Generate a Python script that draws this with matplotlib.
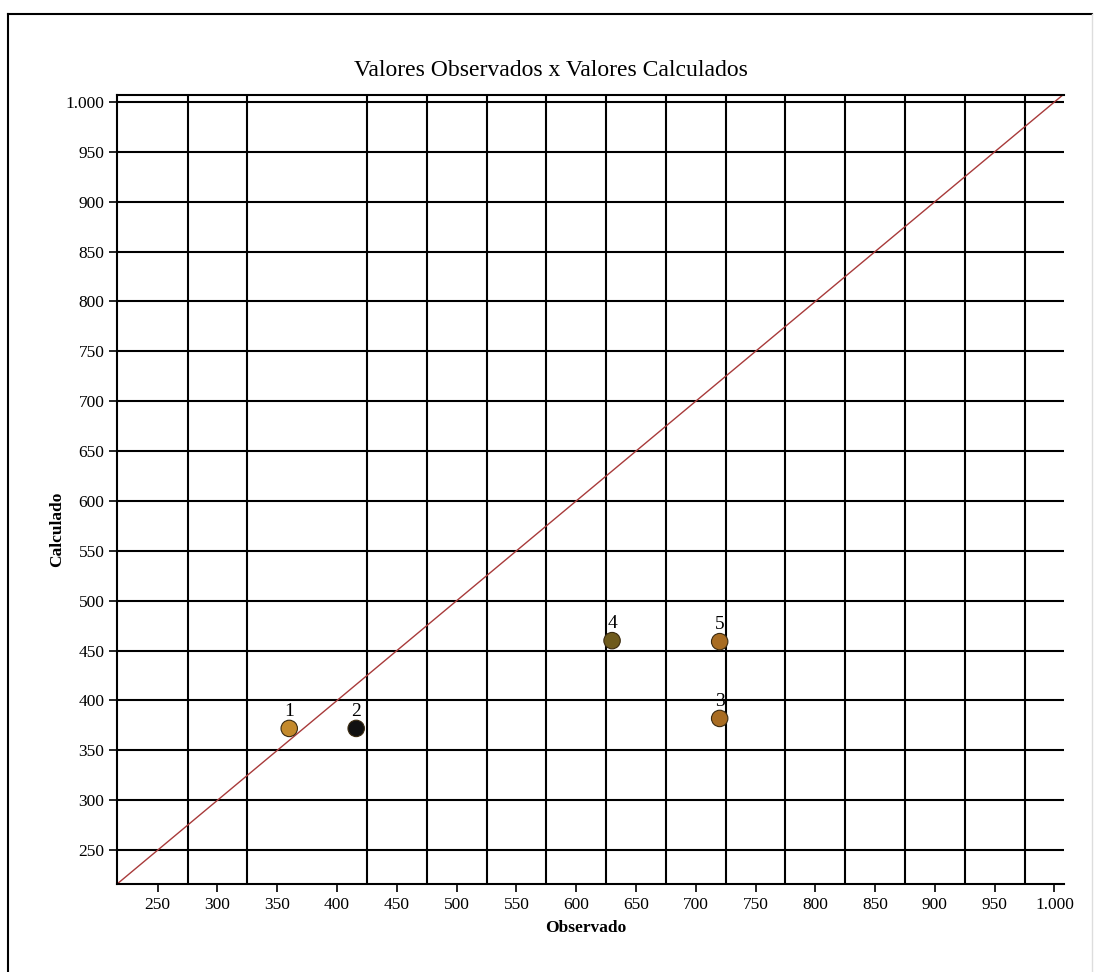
import matplotlib
matplotlib.use("Agg")
import matplotlib.pyplot as plt
from matplotlib.lines import Line2D
from matplotlib.ticker import FixedLocator

# ==============================
# DATA
# ==============================
point_ids = ["1", "2", "3", "4", "5"]
observado = [360, 416, 720, 630, 720]
calculado = [372, 372, 382, 460, 459]
point_colors = ["#c48a2c", "#111111", "#a86c22", "#6e5a1c", "#a86c22"]

x_ticks = list(range(250, 1001, 50))
x_tick_labels = ["1.000" if v == 1000 else str(v) for v in x_ticks]
y_ticks = list(range(250, 1001, 50))
y_tick_labels = ["1.000" if v == 1000 else str(v) for v in y_ticks]
x_grid_lines = [275, 325] + list(range(425, 976, 50))

x_range = (216, 1008)
y_range = (216, 1007)

plt.rcParams["font.family"] = ["Liberation Serif", "DejaVu Serif"]

# ==============================
# PLOT
# ==============================
fig = plt.figure(figsize=(10.94, 9.72), dpi=100)
ax = fig.add_axes([0.107, 0.0905, 0.8656, 0.8118])

# identity line
ax.plot(x_range, x_range, color="#a83a3a", lw=1.0, zorder=2)

ax.scatter(observado, calculado, s=140, c=point_colors,
           edgecolors="#3a2a10", linewidths=0.8, zorder=4)
for pid, xv, yv in zip(point_ids, observado, calculado):
    ax.annotate(pid, (xv, yv), xytext=(0, 6), textcoords="offset points",
                ha="center", va="bottom", fontsize=14, zorder=5)

ax.set_xlim(*x_range)
ax.set_ylim(*y_range)

ax.set_xticks(x_ticks)
ax.set_xticklabels(x_tick_labels)
ax.set_yticks(y_ticks)
ax.set_yticklabels(y_tick_labels)
ax.xaxis.set_minor_locator(FixedLocator(x_grid_lines))

ax.tick_params(axis="both", which="major", direction="out", length=6,
               width=1.2, labelsize=12.5, pad=3, color="black")
ax.tick_params(axis="x", which="minor", length=0)

# grid: horizontal at major y ticks, vertical at minor x positions
ax.yaxis.grid(True, which="major", color="black", lw=1.5)
ax.xaxis.grid(True, which="minor", color="black", lw=1.5)
ax.xaxis.grid(False, which="major")
ax.set_axisbelow(True)

for side in ["left", "bottom", "top"]:
    ax.spines[side].set_linewidth(1.5)
ax.spines["right"].set_visible(False)

# titles / labels
fig.text(0.504, 0.927, "Valores Observados x Valores Calculados",
         ha="center", va="center", fontsize=17)
fig.text(0.052, 0.455, "Calculado", rotation=90, ha="center", va="center",
         fontsize=12.5, fontweight="bold")
fig.text(0.535, 0.045, "Observado", ha="center", va="center",
         fontsize=12.5, fontweight="bold")

# outer frame
bx0, bx1, by1 = 8 / 1094, 1092 / 1094, 1 - 14 / 972
fig.add_artist(Line2D([bx0, bx0], [0, by1], transform=fig.transFigure,
                      color="black", lw=1.5))
fig.add_artist(Line2D([bx0, bx1], [by1, by1], transform=fig.transFigure,
                      color="black", lw=1.5))
fig.add_artist(Line2D([bx1, bx1], [0, by1], transform=fig.transFigure,
                      color="#dddddd", lw=1.0))

fig.savefig("out.png", dpi=100)
